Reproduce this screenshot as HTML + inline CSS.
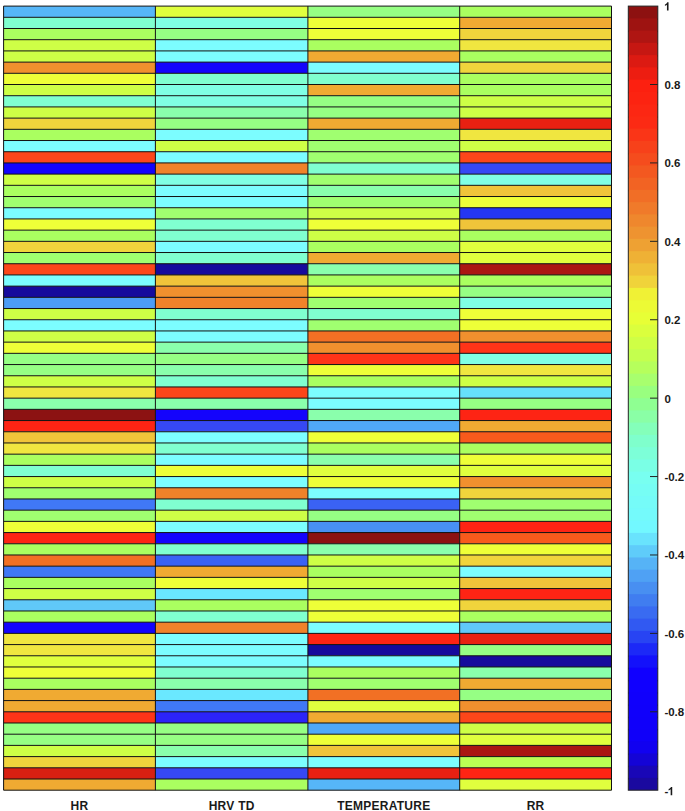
<!DOCTYPE html><html><head><meta charset="utf-8"><style>html,body{margin:0;padding:0;background:#fff;width:685px;height:811px;overflow:hidden}svg{display:block}text{font-family:"Liberation Sans",sans-serif;font-weight:bold;fill:#1a1a1a}</style></head><body>
<svg width="685" height="811" viewBox="0 0 685 811">
<rect x="0" y="0" width="685" height="811" fill="#fff"/>
<rect x="3.60" y="6.10" width="151.80" height="11.201" fill="#56b6f8"/>
<rect x="3.60" y="17.30" width="151.80" height="11.201" fill="#80ffd0"/>
<rect x="3.60" y="28.50" width="151.80" height="11.201" fill="#aaff60"/>
<rect x="3.60" y="39.70" width="151.80" height="11.201" fill="#ceff46"/>
<rect x="3.60" y="50.91" width="151.80" height="11.201" fill="#ceff46"/>
<rect x="3.60" y="62.11" width="151.80" height="11.201" fill="#f0902e"/>
<rect x="3.60" y="73.31" width="151.80" height="11.201" fill="#eeff38"/>
<rect x="3.60" y="84.51" width="151.80" height="11.201" fill="#ceff46"/>
<rect x="3.60" y="95.71" width="151.80" height="11.201" fill="#80ffd0"/>
<rect x="3.60" y="106.91" width="151.80" height="11.201" fill="#ceff46"/>
<rect x="3.60" y="118.11" width="151.80" height="11.201" fill="#f0d43c"/>
<rect x="3.60" y="129.32" width="151.80" height="11.201" fill="#aaff60"/>
<rect x="3.60" y="140.52" width="151.80" height="11.201" fill="#7cfdff"/>
<rect x="3.60" y="151.72" width="151.80" height="11.201" fill="#fc461a"/>
<rect x="3.60" y="162.92" width="151.80" height="11.201" fill="#1404fc"/>
<rect x="3.60" y="174.12" width="151.80" height="11.201" fill="#ceff46"/>
<rect x="3.60" y="185.32" width="151.80" height="11.201" fill="#aaff60"/>
<rect x="3.60" y="196.52" width="151.80" height="11.201" fill="#a0ff70"/>
<rect x="3.60" y="207.73" width="151.80" height="11.201" fill="#7cfdff"/>
<rect x="3.60" y="218.93" width="151.80" height="11.201" fill="#eeff38"/>
<rect x="3.60" y="230.13" width="151.80" height="11.201" fill="#aaff60"/>
<rect x="3.60" y="241.33" width="151.80" height="11.201" fill="#f0d43c"/>
<rect x="3.60" y="252.53" width="151.80" height="11.201" fill="#a0ff70"/>
<rect x="3.60" y="263.73" width="151.80" height="11.201" fill="#fc461a"/>
<rect x="3.60" y="274.93" width="151.80" height="11.201" fill="#7cfdff"/>
<rect x="3.60" y="286.14" width="151.80" height="11.201" fill="#160a9c"/>
<rect x="3.60" y="297.34" width="151.80" height="11.201" fill="#4c9cf6"/>
<rect x="3.60" y="308.54" width="151.80" height="11.201" fill="#ceff46"/>
<rect x="3.60" y="319.74" width="151.80" height="11.201" fill="#7cfdff"/>
<rect x="3.60" y="330.94" width="151.80" height="11.201" fill="#ceff46"/>
<rect x="3.60" y="342.14" width="151.80" height="11.201" fill="#eeff38"/>
<rect x="3.60" y="353.34" width="151.80" height="11.201" fill="#96ff84"/>
<rect x="3.60" y="364.55" width="151.80" height="11.201" fill="#96ff84"/>
<rect x="3.60" y="375.75" width="151.80" height="11.201" fill="#ceff46"/>
<rect x="3.60" y="386.95" width="151.80" height="11.201" fill="#f0e640"/>
<rect x="3.60" y="398.15" width="151.80" height="11.201" fill="#8affac"/>
<rect x="3.60" y="409.35" width="151.80" height="11.201" fill="#8c1212"/>
<rect x="3.60" y="420.55" width="151.80" height="11.201" fill="#fe2414"/>
<rect x="3.60" y="431.75" width="151.80" height="11.201" fill="#f0c43a"/>
<rect x="3.60" y="442.96" width="151.80" height="11.201" fill="#f0e640"/>
<rect x="3.60" y="454.16" width="151.80" height="11.201" fill="#aaff60"/>
<rect x="3.60" y="465.36" width="151.80" height="11.201" fill="#80ffd0"/>
<rect x="3.60" y="476.56" width="151.80" height="11.201" fill="#ceff46"/>
<rect x="3.60" y="487.76" width="151.80" height="11.201" fill="#a0ff70"/>
<rect x="3.60" y="498.96" width="151.80" height="11.201" fill="#4078f6"/>
<rect x="3.60" y="510.16" width="151.80" height="11.201" fill="#a0ff70"/>
<rect x="3.60" y="521.37" width="151.80" height="11.201" fill="#eeff38"/>
<rect x="3.60" y="532.57" width="151.80" height="11.201" fill="#fe2414"/>
<rect x="3.60" y="543.77" width="151.80" height="11.201" fill="#aaff60"/>
<rect x="3.60" y="554.97" width="151.80" height="11.201" fill="#f27024"/>
<rect x="3.60" y="566.17" width="151.80" height="11.201" fill="#4078f6"/>
<rect x="3.60" y="577.37" width="151.80" height="11.201" fill="#aaff60"/>
<rect x="3.60" y="588.57" width="151.80" height="11.201" fill="#ceff46"/>
<rect x="3.60" y="599.78" width="151.80" height="11.201" fill="#60c8f8"/>
<rect x="3.60" y="610.98" width="151.80" height="11.201" fill="#aaff60"/>
<rect x="3.60" y="622.18" width="151.80" height="11.201" fill="#1404fc"/>
<rect x="3.60" y="633.38" width="151.80" height="11.201" fill="#f0e640"/>
<rect x="3.60" y="644.58" width="151.80" height="11.201" fill="#f0e640"/>
<rect x="3.60" y="655.78" width="151.80" height="11.201" fill="#e0ff3e"/>
<rect x="3.60" y="666.98" width="151.80" height="11.201" fill="#eeff38"/>
<rect x="3.60" y="678.19" width="151.80" height="11.201" fill="#aaff60"/>
<rect x="3.60" y="689.39" width="151.80" height="11.201" fill="#f0aa32"/>
<rect x="3.60" y="700.59" width="151.80" height="11.201" fill="#f0aa32"/>
<rect x="3.60" y="711.79" width="151.80" height="11.201" fill="#ff3418"/>
<rect x="3.60" y="722.99" width="151.80" height="11.201" fill="#96ff84"/>
<rect x="3.60" y="734.19" width="151.80" height="11.201" fill="#96ff84"/>
<rect x="3.60" y="745.39" width="151.80" height="11.201" fill="#ceff46"/>
<rect x="3.60" y="756.60" width="151.80" height="11.201" fill="#f0d43c"/>
<rect x="3.60" y="767.80" width="151.80" height="11.201" fill="#d82012"/>
<rect x="3.60" y="779.00" width="151.80" height="11.201" fill="#f0aa32"/>
<rect x="155.40" y="6.10" width="152.50" height="11.201" fill="#e0ff3e"/>
<rect x="155.40" y="17.30" width="152.50" height="11.201" fill="#80ffe4"/>
<rect x="155.40" y="28.50" width="152.50" height="11.201" fill="#96ff84"/>
<rect x="155.40" y="39.70" width="152.50" height="11.201" fill="#7cfdff"/>
<rect x="155.40" y="50.91" width="152.50" height="11.201" fill="#7cfdff"/>
<rect x="155.40" y="62.11" width="152.50" height="11.201" fill="#1404fc"/>
<rect x="155.40" y="73.31" width="152.50" height="11.201" fill="#80ffd0"/>
<rect x="155.40" y="84.51" width="152.50" height="11.201" fill="#80ffe4"/>
<rect x="155.40" y="95.71" width="152.50" height="11.201" fill="#80ffe4"/>
<rect x="155.40" y="106.91" width="152.50" height="11.201" fill="#8affac"/>
<rect x="155.40" y="118.11" width="152.50" height="11.201" fill="#96ff84"/>
<rect x="155.40" y="129.32" width="152.50" height="11.201" fill="#7cfdff"/>
<rect x="155.40" y="140.52" width="152.50" height="11.201" fill="#ceff46"/>
<rect x="155.40" y="151.72" width="152.50" height="11.201" fill="#7cfdff"/>
<rect x="155.40" y="162.92" width="152.50" height="11.201" fill="#f0822a"/>
<rect x="155.40" y="174.12" width="152.50" height="11.201" fill="#80ffe4"/>
<rect x="155.40" y="185.32" width="152.50" height="11.201" fill="#7cfdff"/>
<rect x="155.40" y="196.52" width="152.50" height="11.201" fill="#7cfdff"/>
<rect x="155.40" y="207.73" width="152.50" height="11.201" fill="#a0ff70"/>
<rect x="155.40" y="218.93" width="152.50" height="11.201" fill="#80ffd0"/>
<rect x="155.40" y="230.13" width="152.50" height="11.201" fill="#80ffd0"/>
<rect x="155.40" y="241.33" width="152.50" height="11.201" fill="#7cfdff"/>
<rect x="155.40" y="252.53" width="152.50" height="11.201" fill="#80ffd0"/>
<rect x="155.40" y="263.73" width="152.50" height="11.201" fill="#160a9c"/>
<rect x="155.40" y="274.93" width="152.50" height="11.201" fill="#f0c43a"/>
<rect x="155.40" y="286.14" width="152.50" height="11.201" fill="#f0902e"/>
<rect x="155.40" y="297.34" width="152.50" height="11.201" fill="#f0822a"/>
<rect x="155.40" y="308.54" width="152.50" height="11.201" fill="#80ffd0"/>
<rect x="155.40" y="319.74" width="152.50" height="11.201" fill="#7cfdff"/>
<rect x="155.40" y="330.94" width="152.50" height="11.201" fill="#7cfdff"/>
<rect x="155.40" y="342.14" width="152.50" height="11.201" fill="#8affac"/>
<rect x="155.40" y="353.34" width="152.50" height="11.201" fill="#96ff84"/>
<rect x="155.40" y="364.55" width="152.50" height="11.201" fill="#8affac"/>
<rect x="155.40" y="375.75" width="152.50" height="11.201" fill="#80ffd0"/>
<rect x="155.40" y="386.95" width="152.50" height="11.201" fill="#fc461a"/>
<rect x="155.40" y="398.15" width="152.50" height="11.201" fill="#8affac"/>
<rect x="155.40" y="409.35" width="152.50" height="11.201" fill="#1404fc"/>
<rect x="155.40" y="420.55" width="152.50" height="11.201" fill="#3648f4"/>
<rect x="155.40" y="431.75" width="152.50" height="11.201" fill="#7cfdff"/>
<rect x="155.40" y="442.96" width="152.50" height="11.201" fill="#80ffd0"/>
<rect x="155.40" y="454.16" width="152.50" height="11.201" fill="#7cfdff"/>
<rect x="155.40" y="465.36" width="152.50" height="11.201" fill="#eeff38"/>
<rect x="155.40" y="476.56" width="152.50" height="11.201" fill="#7cfdff"/>
<rect x="155.40" y="487.76" width="152.50" height="11.201" fill="#f0822a"/>
<rect x="155.40" y="498.96" width="152.50" height="11.201" fill="#80ffd0"/>
<rect x="155.40" y="510.16" width="152.50" height="11.201" fill="#ceff46"/>
<rect x="155.40" y="521.37" width="152.50" height="11.201" fill="#7cfdff"/>
<rect x="155.40" y="532.57" width="152.50" height="11.201" fill="#1404fc"/>
<rect x="155.40" y="543.77" width="152.50" height="11.201" fill="#80ffd0"/>
<rect x="155.40" y="554.97" width="152.50" height="11.201" fill="#3a62f4"/>
<rect x="155.40" y="566.17" width="152.50" height="11.201" fill="#f0aa32"/>
<rect x="155.40" y="577.37" width="152.50" height="11.201" fill="#eeff38"/>
<rect x="155.40" y="588.57" width="152.50" height="11.201" fill="#6ae8ff"/>
<rect x="155.40" y="599.78" width="152.50" height="11.201" fill="#aaff60"/>
<rect x="155.40" y="610.98" width="152.50" height="11.201" fill="#80ffd0"/>
<rect x="155.40" y="622.18" width="152.50" height="11.201" fill="#f0822a"/>
<rect x="155.40" y="633.38" width="152.50" height="11.201" fill="#7cfdff"/>
<rect x="155.40" y="644.58" width="152.50" height="11.201" fill="#7cfdff"/>
<rect x="155.40" y="655.78" width="152.50" height="11.201" fill="#7cfdff"/>
<rect x="155.40" y="666.98" width="152.50" height="11.201" fill="#80ffd0"/>
<rect x="155.40" y="678.19" width="152.50" height="11.201" fill="#8affac"/>
<rect x="155.40" y="689.39" width="152.50" height="11.201" fill="#6ae8ff"/>
<rect x="155.40" y="700.59" width="152.50" height="11.201" fill="#4078f6"/>
<rect x="155.40" y="711.79" width="152.50" height="11.201" fill="#2c24f8"/>
<rect x="155.40" y="722.99" width="152.50" height="11.201" fill="#96ff84"/>
<rect x="155.40" y="734.19" width="152.50" height="11.201" fill="#96ff84"/>
<rect x="155.40" y="745.39" width="152.50" height="11.201" fill="#8affac"/>
<rect x="155.40" y="756.60" width="152.50" height="11.201" fill="#7cfdff"/>
<rect x="155.40" y="767.80" width="152.50" height="11.201" fill="#3648f4"/>
<rect x="155.40" y="779.00" width="152.50" height="11.201" fill="#aaff60"/>
<rect x="307.90" y="6.10" width="151.80" height="11.201" fill="#96ff84"/>
<rect x="307.90" y="17.30" width="151.80" height="11.201" fill="#eeff38"/>
<rect x="307.90" y="28.50" width="151.80" height="11.201" fill="#eeff38"/>
<rect x="307.90" y="39.70" width="151.80" height="11.201" fill="#aaff60"/>
<rect x="307.90" y="50.91" width="151.80" height="11.201" fill="#f0aa32"/>
<rect x="307.90" y="62.11" width="151.80" height="11.201" fill="#7cfdff"/>
<rect x="307.90" y="73.31" width="151.80" height="11.201" fill="#80ffd0"/>
<rect x="307.90" y="84.51" width="151.80" height="11.201" fill="#f0aa32"/>
<rect x="307.90" y="95.71" width="151.80" height="11.201" fill="#96ff84"/>
<rect x="307.90" y="106.91" width="151.80" height="11.201" fill="#96ff84"/>
<rect x="307.90" y="118.11" width="151.80" height="11.201" fill="#f0aa32"/>
<rect x="307.90" y="129.32" width="151.80" height="11.201" fill="#a0ff70"/>
<rect x="307.90" y="140.52" width="151.80" height="11.201" fill="#a0ff70"/>
<rect x="307.90" y="151.72" width="151.80" height="11.201" fill="#a0ff70"/>
<rect x="307.90" y="162.92" width="151.80" height="11.201" fill="#80ffd0"/>
<rect x="307.90" y="174.12" width="151.80" height="11.201" fill="#a0ff70"/>
<rect x="307.90" y="185.32" width="151.80" height="11.201" fill="#8affac"/>
<rect x="307.90" y="196.52" width="151.80" height="11.201" fill="#a0ff70"/>
<rect x="307.90" y="207.73" width="151.80" height="11.201" fill="#ceff46"/>
<rect x="307.90" y="218.93" width="151.80" height="11.201" fill="#eeff38"/>
<rect x="307.90" y="230.13" width="151.80" height="11.201" fill="#ceff46"/>
<rect x="307.90" y="241.33" width="151.80" height="11.201" fill="#aaff60"/>
<rect x="307.90" y="252.53" width="151.80" height="11.201" fill="#f0aa32"/>
<rect x="307.90" y="263.73" width="151.80" height="11.201" fill="#8affac"/>
<rect x="307.90" y="274.93" width="151.80" height="11.201" fill="#aaff60"/>
<rect x="307.90" y="286.14" width="151.80" height="11.201" fill="#eeff38"/>
<rect x="307.90" y="297.34" width="151.80" height="11.201" fill="#a0ff70"/>
<rect x="307.90" y="308.54" width="151.80" height="11.201" fill="#80ffd0"/>
<rect x="307.90" y="319.74" width="151.80" height="11.201" fill="#a0ff70"/>
<rect x="307.90" y="330.94" width="151.80" height="11.201" fill="#f27024"/>
<rect x="307.90" y="342.14" width="151.80" height="11.201" fill="#f0902e"/>
<rect x="307.90" y="353.34" width="151.80" height="11.201" fill="#ff3418"/>
<rect x="307.90" y="364.55" width="151.80" height="11.201" fill="#eeff38"/>
<rect x="307.90" y="375.75" width="151.80" height="11.201" fill="#aaff60"/>
<rect x="307.90" y="386.95" width="151.80" height="11.201" fill="#7cfdff"/>
<rect x="307.90" y="398.15" width="151.80" height="11.201" fill="#7cfdff"/>
<rect x="307.90" y="409.35" width="151.80" height="11.201" fill="#8affac"/>
<rect x="307.90" y="420.55" width="151.80" height="11.201" fill="#50a8f8"/>
<rect x="307.90" y="431.75" width="151.80" height="11.201" fill="#eeff38"/>
<rect x="307.90" y="442.96" width="151.80" height="11.201" fill="#aaff60"/>
<rect x="307.90" y="454.16" width="151.80" height="11.201" fill="#8affac"/>
<rect x="307.90" y="465.36" width="151.80" height="11.201" fill="#e0ff3e"/>
<rect x="307.90" y="476.56" width="151.80" height="11.201" fill="#eeff38"/>
<rect x="307.90" y="487.76" width="151.80" height="11.201" fill="#7cfdff"/>
<rect x="307.90" y="498.96" width="151.80" height="11.201" fill="#3a62f4"/>
<rect x="307.90" y="510.16" width="151.80" height="11.201" fill="#96ff84"/>
<rect x="307.90" y="521.37" width="151.80" height="11.201" fill="#4890f4"/>
<rect x="307.90" y="532.57" width="151.80" height="11.201" fill="#8c1212"/>
<rect x="307.90" y="543.77" width="151.80" height="11.201" fill="#8affac"/>
<rect x="307.90" y="554.97" width="151.80" height="11.201" fill="#ceff46"/>
<rect x="307.90" y="566.17" width="151.80" height="11.201" fill="#aaff60"/>
<rect x="307.90" y="577.37" width="151.80" height="11.201" fill="#ceff46"/>
<rect x="307.90" y="588.57" width="151.80" height="11.201" fill="#a0ff70"/>
<rect x="307.90" y="599.78" width="151.80" height="11.201" fill="#eeff38"/>
<rect x="307.90" y="610.98" width="151.80" height="11.201" fill="#eeff38"/>
<rect x="307.90" y="622.18" width="151.80" height="11.201" fill="#7cfdff"/>
<rect x="307.90" y="633.38" width="151.80" height="11.201" fill="#fe2414"/>
<rect x="307.90" y="644.58" width="151.80" height="11.201" fill="#160a9c"/>
<rect x="307.90" y="655.78" width="151.80" height="11.201" fill="#7cfdff"/>
<rect x="307.90" y="666.98" width="151.80" height="11.201" fill="#aaff60"/>
<rect x="307.90" y="678.19" width="151.80" height="11.201" fill="#a0ff70"/>
<rect x="307.90" y="689.39" width="151.80" height="11.201" fill="#f27024"/>
<rect x="307.90" y="700.59" width="151.80" height="11.201" fill="#e0ff3e"/>
<rect x="307.90" y="711.79" width="151.80" height="11.201" fill="#f0aa32"/>
<rect x="307.90" y="722.99" width="151.80" height="11.201" fill="#50a8f8"/>
<rect x="307.90" y="734.19" width="151.80" height="11.201" fill="#eeff38"/>
<rect x="307.90" y="745.39" width="151.80" height="11.201" fill="#f0c43a"/>
<rect x="307.90" y="756.60" width="151.80" height="11.201" fill="#7cfdff"/>
<rect x="307.90" y="767.80" width="151.80" height="11.201" fill="#e82012"/>
<rect x="307.90" y="779.00" width="151.80" height="11.201" fill="#56b6f8"/>
<rect x="459.70" y="6.10" width="151.80" height="11.201" fill="#aaff60"/>
<rect x="459.70" y="17.30" width="151.80" height="11.201" fill="#f0aa32"/>
<rect x="459.70" y="28.50" width="151.80" height="11.201" fill="#f0d43c"/>
<rect x="459.70" y="39.70" width="151.80" height="11.201" fill="#f0e640"/>
<rect x="459.70" y="50.91" width="151.80" height="11.201" fill="#aaff60"/>
<rect x="459.70" y="62.11" width="151.80" height="11.201" fill="#f0d43c"/>
<rect x="459.70" y="73.31" width="151.80" height="11.201" fill="#aaff60"/>
<rect x="459.70" y="84.51" width="151.80" height="11.201" fill="#aaff60"/>
<rect x="459.70" y="95.71" width="151.80" height="11.201" fill="#ceff46"/>
<rect x="459.70" y="106.91" width="151.80" height="11.201" fill="#ceff46"/>
<rect x="459.70" y="118.11" width="151.80" height="11.201" fill="#e82012"/>
<rect x="459.70" y="129.32" width="151.80" height="11.201" fill="#f0e640"/>
<rect x="459.70" y="140.52" width="151.80" height="11.201" fill="#ceff46"/>
<rect x="459.70" y="151.72" width="151.80" height="11.201" fill="#fc461a"/>
<rect x="459.70" y="162.92" width="151.80" height="11.201" fill="#3648f4"/>
<rect x="459.70" y="174.12" width="151.80" height="11.201" fill="#80ffe4"/>
<rect x="459.70" y="185.32" width="151.80" height="11.201" fill="#f0c43a"/>
<rect x="459.70" y="196.52" width="151.80" height="11.201" fill="#eeff38"/>
<rect x="459.70" y="207.73" width="151.80" height="11.201" fill="#2436f2"/>
<rect x="459.70" y="218.93" width="151.80" height="11.201" fill="#f0c43a"/>
<rect x="459.70" y="230.13" width="151.80" height="11.201" fill="#aaff60"/>
<rect x="459.70" y="241.33" width="151.80" height="11.201" fill="#e0ff3e"/>
<rect x="459.70" y="252.53" width="151.80" height="11.201" fill="#e0ff3e"/>
<rect x="459.70" y="263.73" width="151.80" height="11.201" fill="#aa1612"/>
<rect x="459.70" y="274.93" width="151.80" height="11.201" fill="#aaff60"/>
<rect x="459.70" y="286.14" width="151.80" height="11.201" fill="#96ff84"/>
<rect x="459.70" y="297.34" width="151.80" height="11.201" fill="#80ffe4"/>
<rect x="459.70" y="308.54" width="151.80" height="11.201" fill="#eeff38"/>
<rect x="459.70" y="319.74" width="151.80" height="11.201" fill="#eeff38"/>
<rect x="459.70" y="330.94" width="151.80" height="11.201" fill="#f0902e"/>
<rect x="459.70" y="342.14" width="151.80" height="11.201" fill="#ff3418"/>
<rect x="459.70" y="353.34" width="151.80" height="11.201" fill="#80ffe4"/>
<rect x="459.70" y="364.55" width="151.80" height="11.201" fill="#f0e640"/>
<rect x="459.70" y="375.75" width="151.80" height="11.201" fill="#ceff46"/>
<rect x="459.70" y="386.95" width="151.80" height="11.201" fill="#66e0fc"/>
<rect x="459.70" y="398.15" width="151.80" height="11.201" fill="#96ff84"/>
<rect x="459.70" y="409.35" width="151.80" height="11.201" fill="#fe2414"/>
<rect x="459.70" y="420.55" width="151.80" height="11.201" fill="#f0aa32"/>
<rect x="459.70" y="431.75" width="151.80" height="11.201" fill="#f85a1c"/>
<rect x="459.70" y="442.96" width="151.80" height="11.201" fill="#aaff60"/>
<rect x="459.70" y="454.16" width="151.80" height="11.201" fill="#eeff38"/>
<rect x="459.70" y="465.36" width="151.80" height="11.201" fill="#e0ff3e"/>
<rect x="459.70" y="476.56" width="151.80" height="11.201" fill="#f0902e"/>
<rect x="459.70" y="487.76" width="151.80" height="11.201" fill="#f0d43c"/>
<rect x="459.70" y="498.96" width="151.80" height="11.201" fill="#a0ff70"/>
<rect x="459.70" y="510.16" width="151.80" height="11.201" fill="#a0ff70"/>
<rect x="459.70" y="521.37" width="151.80" height="11.201" fill="#fe2414"/>
<rect x="459.70" y="532.57" width="151.80" height="11.201" fill="#f85a1c"/>
<rect x="459.70" y="543.77" width="151.80" height="11.201" fill="#eeff38"/>
<rect x="459.70" y="554.97" width="151.80" height="11.201" fill="#f0d43c"/>
<rect x="459.70" y="566.17" width="151.80" height="11.201" fill="#7cfdff"/>
<rect x="459.70" y="577.37" width="151.80" height="11.201" fill="#f0c43a"/>
<rect x="459.70" y="588.57" width="151.80" height="11.201" fill="#fe2414"/>
<rect x="459.70" y="599.78" width="151.80" height="11.201" fill="#f0d43c"/>
<rect x="459.70" y="610.98" width="151.80" height="11.201" fill="#aaff60"/>
<rect x="459.70" y="622.18" width="151.80" height="11.201" fill="#60c8f8"/>
<rect x="459.70" y="633.38" width="151.80" height="11.201" fill="#e82012"/>
<rect x="459.70" y="644.58" width="151.80" height="11.201" fill="#96ff84"/>
<rect x="459.70" y="655.78" width="151.80" height="11.201" fill="#160a9c"/>
<rect x="459.70" y="666.98" width="151.80" height="11.201" fill="#8affac"/>
<rect x="459.70" y="678.19" width="151.80" height="11.201" fill="#f0aa32"/>
<rect x="459.70" y="689.39" width="151.80" height="11.201" fill="#96ff84"/>
<rect x="459.70" y="700.59" width="151.80" height="11.201" fill="#f0902e"/>
<rect x="459.70" y="711.79" width="151.80" height="11.201" fill="#fc461a"/>
<rect x="459.70" y="722.99" width="151.80" height="11.201" fill="#ceff46"/>
<rect x="459.70" y="734.19" width="151.80" height="11.201" fill="#e0ff3e"/>
<rect x="459.70" y="745.39" width="151.80" height="11.201" fill="#aa1612"/>
<rect x="459.70" y="756.60" width="151.80" height="11.201" fill="#baff54"/>
<rect x="459.70" y="767.80" width="151.80" height="11.201" fill="#fe2414"/>
<rect x="459.70" y="779.00" width="151.80" height="11.201" fill="#e0ff3e"/>
<path d="M3.60 6.10H611.50M3.60 17.30H611.50M3.60 28.50H611.50M3.60 39.70H611.50M3.60 50.91H611.50M3.60 62.11H611.50M3.60 73.31H611.50M3.60 84.51H611.50M3.60 95.71H611.50M3.60 106.91H611.50M3.60 118.11H611.50M3.60 129.32H611.50M3.60 140.52H611.50M3.60 151.72H611.50M3.60 162.92H611.50M3.60 174.12H611.50M3.60 185.32H611.50M3.60 196.52H611.50M3.60 207.73H611.50M3.60 218.93H611.50M3.60 230.13H611.50M3.60 241.33H611.50M3.60 252.53H611.50M3.60 263.73H611.50M3.60 274.93H611.50M3.60 286.14H611.50M3.60 297.34H611.50M3.60 308.54H611.50M3.60 319.74H611.50M3.60 330.94H611.50M3.60 342.14H611.50M3.60 353.34H611.50M3.60 364.55H611.50M3.60 375.75H611.50M3.60 386.95H611.50M3.60 398.15H611.50M3.60 409.35H611.50M3.60 420.55H611.50M3.60 431.75H611.50M3.60 442.96H611.50M3.60 454.16H611.50M3.60 465.36H611.50M3.60 476.56H611.50M3.60 487.76H611.50M3.60 498.96H611.50M3.60 510.16H611.50M3.60 521.37H611.50M3.60 532.57H611.50M3.60 543.77H611.50M3.60 554.97H611.50M3.60 566.17H611.50M3.60 577.37H611.50M3.60 588.57H611.50M3.60 599.78H611.50M3.60 610.98H611.50M3.60 622.18H611.50M3.60 633.38H611.50M3.60 644.58H611.50M3.60 655.78H611.50M3.60 666.98H611.50M3.60 678.19H611.50M3.60 689.39H611.50M3.60 700.59H611.50M3.60 711.79H611.50M3.60 722.99H611.50M3.60 734.19H611.50M3.60 745.39H611.50M3.60 756.60H611.50M3.60 767.80H611.50M3.60 779.00H611.50M3.60 790.20H611.50M3.60 6.10V790.20M155.40 6.10V790.20M307.90 6.10V790.20M459.70 6.10V790.20M611.50 6.10V790.20" stroke="#111" stroke-width="1" fill="none"/>
<rect x="628.30" y="6.10" width="29.50" height="13.75" fill="#8d1110"/>
<rect x="628.30" y="18.35" width="29.50" height="13.75" fill="#9e1311"/>
<rect x="628.30" y="30.60" width="29.50" height="13.75" fill="#af1512"/>
<rect x="628.30" y="42.85" width="29.50" height="13.75" fill="#c61712"/>
<rect x="628.30" y="55.11" width="29.50" height="13.75" fill="#dc1a12"/>
<rect x="628.30" y="67.36" width="29.50" height="13.75" fill="#ed1d11"/>
<rect x="628.30" y="79.61" width="29.50" height="13.75" fill="#fc2010"/>
<rect x="628.30" y="91.86" width="29.50" height="13.75" fill="#fc2311"/>
<rect x="628.30" y="104.11" width="29.50" height="13.75" fill="#fc2713"/>
<rect x="628.30" y="116.36" width="29.50" height="13.75" fill="#fc2a14"/>
<rect x="628.30" y="128.62" width="29.50" height="13.75" fill="#fa3517"/>
<rect x="628.30" y="140.87" width="29.50" height="13.75" fill="#f7411a"/>
<rect x="628.30" y="153.12" width="29.50" height="13.75" fill="#f54c1d"/>
<rect x="628.30" y="165.37" width="29.50" height="13.75" fill="#f35820"/>
<rect x="628.30" y="177.62" width="29.50" height="13.75" fill="#f26323"/>
<rect x="628.30" y="189.87" width="29.50" height="13.75" fill="#f16e26"/>
<rect x="628.30" y="202.12" width="29.50" height="13.75" fill="#f07a2a"/>
<rect x="628.30" y="214.38" width="29.50" height="13.75" fill="#ef872d"/>
<rect x="628.30" y="226.63" width="29.50" height="13.75" fill="#ee9330"/>
<rect x="628.30" y="238.88" width="29.50" height="13.75" fill="#eea133"/>
<rect x="628.30" y="251.13" width="29.50" height="13.75" fill="#efb135"/>
<rect x="628.30" y="263.38" width="29.50" height="13.75" fill="#efc138"/>
<rect x="628.30" y="275.63" width="29.50" height="13.75" fill="#f0d33a"/>
<rect x="628.30" y="287.89" width="29.50" height="13.75" fill="#f0f135"/>
<rect x="628.30" y="300.14" width="29.50" height="13.75" fill="#ecfa35"/>
<rect x="628.30" y="312.39" width="29.50" height="13.75" fill="#e7ff36"/>
<rect x="628.30" y="324.64" width="29.50" height="13.75" fill="#dbff3d"/>
<rect x="628.30" y="336.89" width="29.50" height="13.75" fill="#cfff45"/>
<rect x="628.30" y="349.14" width="29.50" height="13.75" fill="#c4ff4e"/>
<rect x="628.30" y="361.40" width="29.50" height="13.75" fill="#b6ff5c"/>
<rect x="628.30" y="373.65" width="29.50" height="13.75" fill="#a8ff6e"/>
<rect x="628.30" y="385.90" width="29.50" height="13.75" fill="#99ff7f"/>
<rect x="628.30" y="398.15" width="29.50" height="13.75" fill="#8fff92"/>
<rect x="628.30" y="410.40" width="29.50" height="13.75" fill="#8affa6"/>
<rect x="628.30" y="422.65" width="29.50" height="13.75" fill="#84ffba"/>
<rect x="628.30" y="434.90" width="29.50" height="13.75" fill="#7fffcc"/>
<rect x="628.30" y="447.16" width="29.50" height="13.75" fill="#7dffd8"/>
<rect x="628.30" y="459.41" width="29.50" height="13.75" fill="#7affe5"/>
<rect x="628.30" y="471.66" width="29.50" height="13.75" fill="#78fff0"/>
<rect x="628.30" y="483.91" width="29.50" height="13.75" fill="#76fdf4"/>
<rect x="628.30" y="496.16" width="29.50" height="13.75" fill="#75fbf8"/>
<rect x="628.30" y="508.41" width="29.50" height="13.75" fill="#74fafb"/>
<rect x="628.30" y="520.67" width="29.50" height="13.75" fill="#72f8ff"/>
<rect x="628.30" y="532.92" width="29.50" height="13.75" fill="#69e3fd"/>
<rect x="628.30" y="545.17" width="29.50" height="13.75" fill="#5fccfa"/>
<rect x="628.30" y="557.42" width="29.50" height="13.75" fill="#56b3f6"/>
<rect x="628.30" y="569.67" width="29.50" height="13.75" fill="#4fa1f4"/>
<rect x="628.30" y="581.92" width="29.50" height="13.75" fill="#488ff1"/>
<rect x="628.30" y="594.18" width="29.50" height="13.75" fill="#407df0"/>
<rect x="628.30" y="606.43" width="29.50" height="13.75" fill="#396bf1"/>
<rect x="628.30" y="618.68" width="29.50" height="13.75" fill="#3159f2"/>
<rect x="628.30" y="630.93" width="29.50" height="13.75" fill="#2844f3"/>
<rect x="628.30" y="643.18" width="29.50" height="13.75" fill="#1c29f7"/>
<rect x="628.30" y="655.43" width="29.50" height="13.75" fill="#1311fb"/>
<rect x="628.30" y="667.68" width="29.50" height="13.75" fill="#1000ff"/>
<rect x="628.30" y="679.94" width="29.50" height="13.75" fill="#1000fe"/>
<rect x="628.30" y="692.19" width="29.50" height="13.75" fill="#1000fc"/>
<rect x="628.30" y="704.44" width="29.50" height="13.75" fill="#1000fb"/>
<rect x="628.30" y="716.69" width="29.50" height="13.75" fill="#1000fa"/>
<rect x="628.30" y="728.94" width="29.50" height="13.75" fill="#1000f9"/>
<rect x="628.30" y="741.19" width="29.50" height="13.75" fill="#1101f0"/>
<rect x="628.30" y="753.45" width="29.50" height="13.75" fill="#1404d6"/>
<rect x="628.30" y="765.70" width="29.50" height="13.75" fill="#1907b7"/>
<rect x="628.30" y="777.95" width="29.50" height="12.25" fill="#1a099f"/>
<rect x="628.30" y="6.10" width="29.50" height="784.10" fill="none" stroke="#222" stroke-width="1"/>
<path d="M650.00 84.51H657.80M650.00 162.92H657.80M650.00 241.33H657.80M650.00 319.74H657.80M650.00 398.15H657.80M650.00 476.56H657.80M650.00 554.97H657.80M650.00 633.38H657.80M650.00 711.79H657.80" stroke="#222" stroke-width="1" fill="none"/>
<path transform="translate(663.90 10.60) scale(0.005615 -0.005615)" d="M825 0H544V1059C441 963 320 892 181 846V1101C254 1125 334 1170 420 1237C506 1304 565 1382 597 1472H825Z" fill="#1a1a1a"/>
<text x="664.4" y="89.01" font-size="11.5">0.8</text>
<text x="664.4" y="167.42" font-size="11.5">0.6</text>
<text x="664.4" y="245.83" font-size="11.5">0.4</text>
<text x="664.4" y="324.24" font-size="11.5">0.2</text>
<text x="664.4" y="402.65" font-size="11.5">0</text>
<text x="664.4" y="481.06" font-size="11.5">-0.2</text>
<text x="664.4" y="559.47" font-size="11.5">-0.4</text>
<text x="664.4" y="637.88" font-size="11.5">-0.6</text>
<text x="664.4" y="716.29" font-size="11.5">-0.8</text>
<text x="664.4" y="795.20" font-size="11.5">-</text>
<path transform="translate(667.60 795.20) scale(0.005615 -0.005615)" d="M825 0H544V1059C441 963 320 892 181 846V1101C254 1125 334 1170 420 1237C506 1304 565 1382 597 1472H825Z" fill="#1a1a1a"/>
<text x="79.50" y="809.6" font-size="12" letter-spacing="0.25" text-anchor="middle">HR</text>
<text x="231.65" y="809.6" font-size="12" letter-spacing="0.25" text-anchor="middle">HRV TD</text>
<text x="383.80" y="809.6" font-size="12" letter-spacing="0.25" text-anchor="middle">TEMPERATURE</text>
<text x="535.60" y="809.6" font-size="12" letter-spacing="0.25" text-anchor="middle">RR</text>
</svg></body></html>
